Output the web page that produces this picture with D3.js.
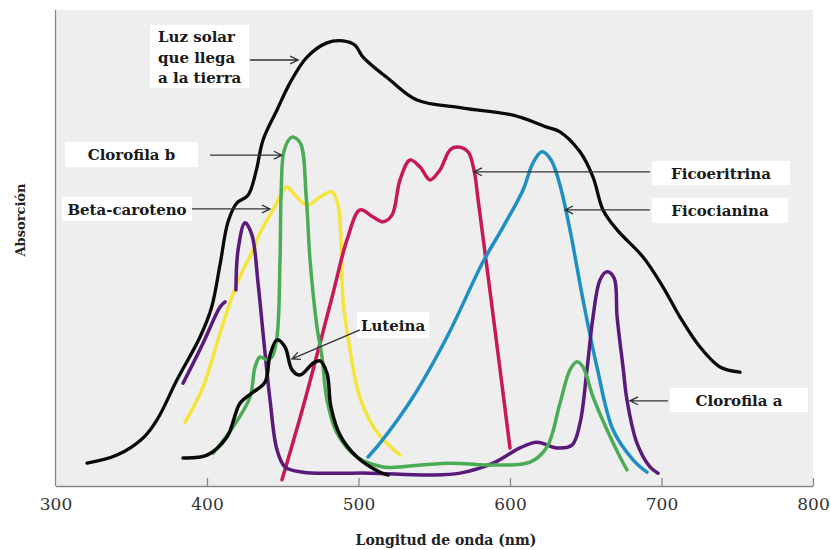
<!DOCTYPE html>
<html>
<head>
<meta charset="utf-8">
<script src="https://cdn.jsdelivr.net/npm/d3@7"></script>
<style>
  body { margin: 0; background: #fff; }
  svg text { font-family: "DejaVu Serif", "Liberation Serif", serif; }
</style>
</head>
<body>
<div id="viz"></div>
<script>
// datos: [longitud de onda (nm), absorción relativa]
const luzSolar = [[320.8,4.8],[340.6,6.5],[357.8,10.1],[367,13.9],[380.2,22.3],[395.4,31.3],[403,37.5],[408.6,46.5],[413.9,55.5],[419.8,59.5],[427.1,61.1],[432.3,66],[437,72.7],[446.2,79],[454.8,84.7],[466,90.1],[479.2,93.1],[489.8,93.5],[497.7,92.6],[503,90.1],[520.8,85.3],[538.6,81.1],[569,79.4],[602,77.9],[624.4,75.4],[633,74.4],[646.2,70.2],[654.8,64.9],[661.4,58],[670.7,53.8],[687.8,48.1],[701,41.8],[712.2,35.5],[725.4,29.2],[738.6,25],[751.8,23.9]];

const clorofilaB = [[404,6.9],[417.2,12.4],[428.4,18.7],[431.7,25],[435,27.1],[439.6,26.5],[442.9,27.1],[446.2,31.3],[448.2,47.5],[449,62.2],[451,70.6],[456.1,73.3],[461.5,72.1],[465.5,60.7],[468,47.5],[472.6,33.4],[475.9,27.1],[479.2,18.1],[485.8,11.1],[499,6.1],[516.2,4],[527.4,4],[558.4,4.8],[591.4,4.4],[613.2,5],[624.4,8.2],[633,17.4],[639.6,24.4],[644.2,26.1],[648.2,25],[654.8,18.7],[664,11.8],[672.6,6.1],[677.2,3.4]];

const betaCaroteno = [[385.5,13.4],[397.4,20.8],[408.6,32.1],[419.8,42.6],[430.4,49.6],[435,53.2],[443.6,58],[452.8,62.8],[456.8,61.6],[466,59],[474.6,60.7],[482.5,61.8],[486.5,59],[488.4,51.7],[489.8,39.1],[494.4,28.6],[501,18.5],[512.2,11.3],[527.4,6.5]];

// clorofila a: tramo corto + pico principal (null = hueco)
const clorofilaA = [[384.2,21.6],[397.4,30],[408.6,37.6],[411.9,38.7],null,[419.1,41.2],[420.5,49.6],[425.1,55.3],[429.7,52.7],[433.7,42.6],[437,32.1],[441.6,18.1],[446.2,7.6],[451.5,4],[463.4,2.9],[485.8,2.7],[507.6,2.7],[547.2,2.3],[567,2.7],[588.8,4.8],[606.6,8],[617.8,9.2],[631,8],[640.9,8.6],[646.2,13.2],[650.8,24.4],[654.8,35.5],[659.4,43.3],[664,45],[668.7,43.7],[670.7,35.5],[674.6,25],[677.2,18.1],[683.8,9],[692.4,4],[697.7,2.7]];

const luteina = [[384.2,5.9],[400,6.5],[413.2,10.3],[421.8,17.4],[430.4,19.7],[438.3,21.8],[441.6,27.5],[446.2,30.7],[451.5,29.2],[456.1,24.4],[461.4,23.3],[470,25.8],[474.6,26.3],[479.2,23.7],[481.8,16.6],[487.8,10.7],[499,6.1],[514.2,2.9],[519.5,2.3]];

const ficoeritrina = [[449.5,1.3],[463.4,16.6],[474.6,30],[483.2,40.5],[492.4,51.7],[501,58],[509.6,56.5],[516.2,55.5],[522.1,56.9],[527.4,64.3],[534,68.5],[540.6,67],[547.2,64.3],[553.8,66.4],[560.4,70.6],[565.6,71.2],[572.3,70.2],[576.2,66.4],[579,60],[589.4,34.5],[600,8]];

const ficocianina = [[506.3,6.1],[514.2,9],[536,18.7],[558.4,31.3],[582.2,47.1],[595.4,54.4],[608.6,62.2],[615.2,67.9],[621.1,70.2],[627.1,68.5],[633,63.2],[639.6,53.8],[648.2,39.1],[657.4,25],[668,11.8],[681.2,5.5],[690.4,2.9]];

const xTicks = [300, 400, 500, 600, 700, 800];

const series = [
  {name: 'Luz solar', data: luzSolar, color: '#0a0a0a', width: 3.3},
  {name: 'Beta-caroteno', data: betaCaroteno, color: '#f5e53b', width: 3.5},
  {name: 'Ficoeritrina', data: ficoeritrina, color: '#c8175a', width: 3.5},
  {name: 'Ficocianina', data: ficocianina, color: '#1e8fc2', width: 3.5},
  {name: 'Clorofila a', data: clorofilaA, color: '#5a1a7c', width: 3.5},
  {name: 'Clorofila b', data: clorofilaB, color: '#4aad55', width: 3.5},
  {name: 'Luteina', data: luteina, color: '#0a0a0a', width: 3.5}
];

// etiquetas: texto, caja (px), flecha (cola y punta en unidades de datos)
const labels = [
  {lines: ['Luz solar', 'que llega', 'a la tierra'], box: [150, 25, 99, 63], tail: [428.4, 89.5], tip: [460.2, 89.5]},
  {lines: ['Clorofila b'], box: [65, 142, 133, 25], tail: [402, 69.5], tip: [449.5, 69.5]},
  {lines: ['Beta-caroteno'], box: [62, 197, 130, 24], tail: [390.1, 58.2], tip: [441.6, 58.2]},
  {lines: ['Luteina'], box: [357, 312, 72, 26], tail: [501, 32.8], tip: [456.1, 26.7]},
  {lines: ['Ficoeritrina'], box: [652, 161, 138, 24], tail: [692.4, 66], tip: [576.2, 66]},
  {lines: ['Ficocianina'], box: [652, 198, 136, 25], tail: [692.4, 58], tip: [636.3, 58]},
  {lines: ['Clorofila a'], box: [670, 388, 138, 24], tail: [704.3, 17.9], tip: [679.2, 17.9]}
];

const W = 831, H = 550;
const plot = {left: 55.5, right: 813, top: 10, bottom: 486};

const svg = d3.select('#viz').append('svg')
  .attr('width', W).attr('height', H);

const x = d3.scaleLinear().domain([300, 800]).range([plot.left, plot.right]);
const y = d3.scaleLinear().domain([0, 100]).range([plot.bottom, plot.top]);

svg.append('rect')
  .attr('x', plot.left).attr('y', plot.top)
  .attr('width', plot.right - plot.left).attr('height', plot.bottom - plot.top)
  .attr('fill', '#eeeeee');

// eje x
const xAxis = svg.append('g')
  .attr('transform', `translate(0,${plot.bottom})`)
  .call(d3.axisBottom(x).tickValues(xTicks).tickSizeInner(-8).tickSizeOuter(0).tickPadding(12));
xAxis.select('.domain').attr('stroke', '#888').attr('stroke-width', 1.3);
xAxis.selectAll('.tick line').attr('stroke', '#888').attr('stroke-width', 1.3)
  .filter(d => d === 300).remove();
xAxis.selectAll('.tick text')
  .attr('font-family', '"DejaVu Serif", serif')
  .attr('font-size', 17).attr('fill', '#333');

// eje y (solo línea)
svg.append('line')
  .attr('x1', plot.left).attr('x2', plot.left)
  .attr('y1', plot.top).attr('y2', plot.bottom)
  .attr('stroke', '#888').attr('stroke-width', 1.3);

svg.append('text')
  .attr('x', 446).attr('y', 545)
  .attr('text-anchor', 'middle')
  .attr('font-size', 14).attr('font-weight', 'bold').attr('fill', '#222')
  .text('Longitud de onda (nm)');

svg.append('text')
  .attr('transform', 'translate(25,220) rotate(-90)')
  .attr('text-anchor', 'middle')
  .attr('font-size', 13).attr('font-weight', 'bold').attr('fill', '#222')
  .text('Absorción');

// curvas
const line = d3.line()
  .defined(d => d !== null)
  .x(d => x(d[0])).y(d => y(d[1]))
  .curve(d3.curveCatmullRom.alpha(0.5));

svg.append('g').selectAll('path')
  .data(series)
  .join('path')
  .attr('d', d => line(d.data))
  .attr('fill', 'none')
  .attr('stroke', d => d.color)
  .attr('stroke-width', d => d.width)
  .attr('stroke-linecap', 'round')
  .attr('stroke-linejoin', 'round');

// etiquetas con flechas
const ann = svg.append('g');
labels.forEach(l => {
  const [bx, by, bw, bh] = l.box;
  ann.append('rect')
    .attr('x', bx).attr('y', by).attr('width', bw).attr('height', bh)
    .attr('fill', '#fff');
  const multi = l.lines.length > 1;
  l.lines.forEach((t, i) => {
    ann.append('text')
      .attr('x', multi ? bx + 8 : bx + bw / 2)
      .attr('y', multi ? by + 17 + i * 20.5 : by + bh / 2 + 5.5)
      .attr('text-anchor', multi ? 'start' : 'middle')
      .attr('font-size', 15).attr('font-weight', 'bold').attr('fill', '#1a1a1a')
      .text(t);
  });
  const x1 = x(l.tail[0]), y1 = y(l.tail[1]);
  const x2 = x(l.tip[0]), y2 = y(l.tip[1]);
  const a = Math.atan2(y2 - y1, x2 - x1);
  const hl = 9, ha = 0.45;
  ann.append('path')
    .attr('d', `M${x1},${y1}L${x2},${y2}` +
      `M${x2 - hl * Math.cos(a - ha)},${y2 - hl * Math.sin(a - ha)}L${x2},${y2}` +
      `L${x2 - hl * Math.cos(a + ha)},${y2 - hl * Math.sin(a + ha)}`)
    .attr('fill', 'none').attr('stroke', '#333').attr('stroke-width', 1.3);
});
</script>
</body>
</html>
